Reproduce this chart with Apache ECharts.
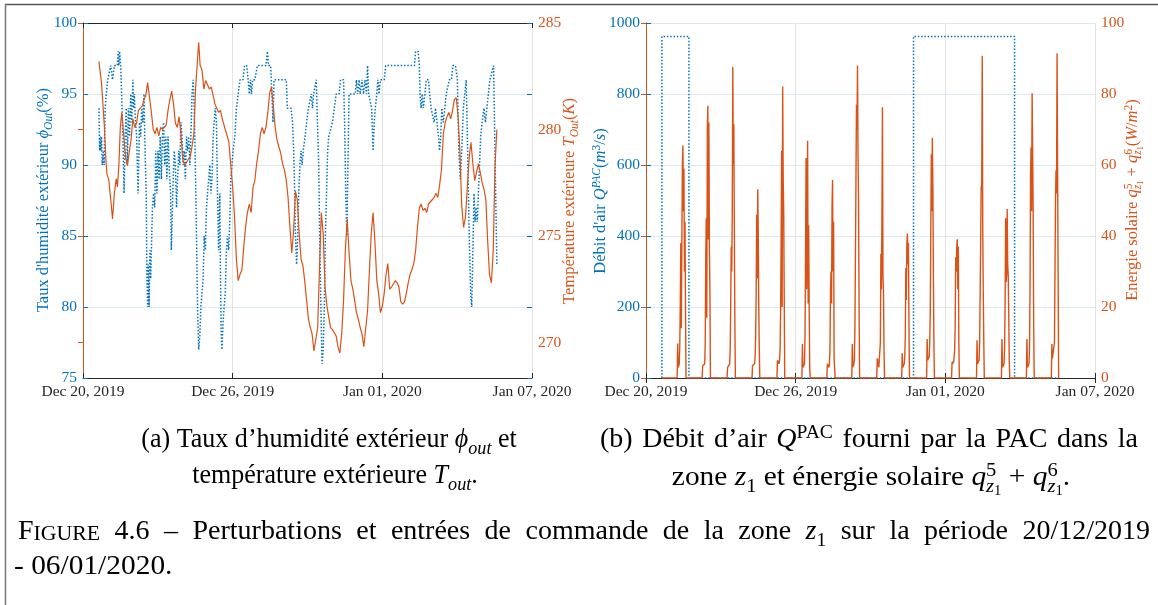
<!DOCTYPE html>
<html><head><meta charset="utf-8">
<script src="https://cdn.jsdelivr.net/npm/echarts@6/dist/echarts.min.js"></script>
<style>html,body{margin:0;padding:0;background:#fff}#c{width:1158px;height:605px}</style>
</head><body><div id="c"></div>
<script>
// ---------------- DATA ----------------
const xTickHours = [0, 144, 288, 432];           // hours since Dec 20, 2019 00:00
const xTickLabels = ['Dec 20, 2019', 'Dec 26, 2019', 'Jan 01, 2020', 'Jan 07, 2020'];
const humidityTicks = [75, 80, 85, 90, 95, 100];
const temperatureTicks = [270, 275, 280, 285];
const airflowTicks = [0, 200, 400, 600, 800, 1000];
const solarTicks = [0, 20, 40, 60, 80, 100];

// outdoor humidity (%), [hour, value]
const humidity = [[15.3,94],[16.0,91],[16.7,92],[17.1,91],[17.8,92],[18.5,90],[19.6,91],[20.3,90],[21.3,94],[22.4,95],[23.8,96],[25.6,96],[26.7,97],[28.4,96],[30.2,97],[33.1,97],[33.8,98],[34.5,97],[35.2,98],[36.3,97],[37.3,97],[38.4,92],[39.5,88],[40.5,92],[41.6,94],[42.7,90],[43.7,94],[44.8,92],[45.9,95],[46.9,93],[48.0,96],[48.7,94],[49.4,95],[50.5,93],[51.6,92],[53.0,88],[54.4,93],[55.5,92],[56.5,94],[57.6,93],[58.7,95],[59.7,91],[60.8,88],[61.5,82],[62.2,80],[62.9,83],[63.6,80],[64.4,84],[65.1,82],[65.8,84],[66.8,87],[67.9,88],[69.0,87],[70.0,91],[71.1,88],[72.2,91],[73.2,89],[74.3,92],[75.4,89],[76.4,92],[77.5,93],[78.6,90],[79.6,92],[80.7,89],[81.8,92],[82.8,90],[84.3,88],[85.0,84],[85.7,86],[86.8,89],[87.8,91],[88.9,90],[90.0,87],[91.0,89],[92.1,91],[93.2,90],[94.2,93],[95.3,92],[96.4,90],[97.4,91],[98.5,89],[99.6,92],[100.6,91],[101.7,92],[102.8,90],[103.8,92],[104.9,95],[106.0,96],[107.0,94],[108.1,90],[109.2,85],[110.2,80],[111.3,77],[112.4,78],[113.4,80],[114.5,81],[115.6,82],[116.6,85],[117.7,84],[118.8,87],[119.8,88],[120.9,89],[122.0,90],[123.0,88],[124.1,89],[125.2,92],[126.2,93],[127.3,94],[128.4,93],[129.4,88],[130.5,84],[131.6,88],[132.3,82],[133.0,78],[133.7,77],[134.8,79],[135.8,80],[136.9,81],[138.0,84],[139.0,85],[140.1,84],[141.2,86],[142.2,89],[143.3,90],[144.4,91],[146.1,92],[147.6,94],[149.3,95],[151.1,96],[153.9,96],[155.4,97],[157.5,97],[158.9,96],[160.0,95],[161.1,96],[162.1,95],[163.2,96],[165.3,96],[167.8,97],[172.4,97],[176.0,97],[177.4,98],[178.5,97],[180.6,97],[181.7,95],[182.8,93],[183.8,96],[186.7,96],[190.2,96],[195.6,96],[196.6,94],[200.2,94],[201.6,93],[202.7,91],[203.7,88],[204.4,85],[205.5,83],[206.6,85],[207.6,88],[208.7,90],[209.8,91],[210.8,90],[211.9,91],[213.7,92],[215.1,93],[216.9,94],[218.7,94],[219.7,95],[220.8,94],[221.9,95],[222.9,95],[224.4,96],[225.8,96],[226.8,90],[227.9,84],[228.9,80],[230.0,76],[231.1,77],[232.2,80],[233.2,85],[234.3,88],[235.4,91],[236.4,92],[238.2,92],[240.0,93],[241.8,94],[243.6,95],[246.4,95],[247.8,96],[250.7,96],[251.7,93],[252.8,88],[253.9,85],[254.9,90],[256.0,95],[259.6,95],[262.0,95],[263.1,96],[264.2,95],[265.6,96],[266.7,95],[268.4,96],[269.9,95],[271.3,96],[272.7,95],[273.8,97],[274.8,95],[276.3,95],[277.7,94],[279.1,91],[280.2,93],[281.2,94],[282.7,95],[283.7,96],[284.8,95],[286.2,96],[288.0,96],[289.8,96],[291.2,97],[296.9,97],[304.0,97],[311.1,97],[318.9,97],[320.0,98],[322.5,98],[323.6,97],[324.3,95],[325.3,94],[326.4,95],[327.5,94],[328.9,95],[330.3,96],[332.4,96],[333.5,95],[334.9,94],[336.4,94],[337.8,93],[339.2,94],[340.6,93],[342.0,92],[343.1,91],[344.2,92],[345.2,94],[346.7,93],[348.1,94],[349.5,95],[350.9,95],[352.4,96],[354.5,96],[355.9,97],[358.4,97],[360.2,96],[361.6,91],[363.0,89],[364.4,91],[365.9,94],[367.3,95],[368.7,96],[369.8,92],[370.8,88],[371.9,84],[373.0,81],[374.0,80],[375.1,84],[376.2,88],[377.2,86],[378.3,87],[379.4,86],[380.4,88],[381.5,90],[382.6,92],[384.0,93],[385.8,94],[387.2,93],[388.6,94],[390.0,95],[391.5,96],[393.2,96],[395.0,97],[396.8,97],[398.2,83]];

// outdoor temperature (K), [hour, value]
const temperature = [[15.3,283.2],[17.8,282.2],[20.6,280.1],[22.0,278.6],[23.1,277.9],[24.9,277.6],[26.7,276.7],[28.4,275.8],[30.2,277.0],[32.0,277.7],[33.1,277.3],[34.5,278.3],[35.9,280.1],[37.3,280.8],[39.1,279.8],[40.9,278.7],[42.7,278.3],[44.4,278.9],[46.2,279.5],[48.0,280.5],[49.8,280.1],[51.6,280.3],[53.3,280.9],[55.1,281.0],[56.9,281.1],[58.7,281.4],[60.4,281.6],[62.2,282.2],[64.0,281.5],[65.8,280.8],[67.6,280.0],[69.3,279.8],[71.1,280.1],[72.9,279.7],[74.7,280.1],[76.4,280.0],[78.2,280.1],[80.0,280.2],[81.8,280.9],[83.6,281.4],[85.3,281.8],[87.1,281.2],[88.9,280.3],[90.7,280.1],[92.4,280.6],[94.2,279.8],[96.0,278.6],[97.8,278.3],[99.6,278.3],[101.3,278.6],[103.1,278.7],[104.9,279.2],[106.7,279.8],[108.4,282.0],[110.2,283.3],[111.3,284.1],[112.7,283.0],[114.5,282.8],[116.3,281.9],[118.0,282.3],[119.8,282.3],[121.6,281.9],[123.4,282.0],[125.2,281.6],[126.9,281.2],[128.7,281.2],[130.5,280.8],[132.3,280.9],[134.0,280.5],[136.9,280.0],[138.7,279.7],[140.4,279.4],[142.2,278.3],[144.0,277.3],[145.8,275.9],[147.6,273.9],[149.3,272.9],[151.1,273.2],[152.9,273.4],[154.7,274.5],[156.4,275.4],[158.2,276.1],[160.0,276.5],[161.8,276.1],[163.6,277.3],[165.3,277.6],[167.1,278.4],[168.9,279.0],[170.7,279.8],[172.4,280.1],[174.2,279.8],[176.0,280.1],[177.8,280.8],[179.6,281.7],[181.3,282.0],[183.1,281.1],[184.9,280.1],[186.7,279.5],[188.4,279.2],[190.2,278.9],[192.0,278.4],[193.8,278.1],[195.6,277.6],[197.3,276.8],[199.1,275.4],[200.9,274.2],[202.7,275.3],[204.4,277.1],[206.2,276.7],[208.0,275.1],[209.8,273.9],[211.6,273.6],[213.3,272.9],[215.1,272.0],[216.9,271.1],[218.7,270.7],[220.4,270.4],[222.2,269.6],[224.0,269.6],[225.8,270.7],[227.6,273.6],[229.3,276.1],[231.1,275.1],[232.9,272.6],[234.7,271.7],[236.4,271.2],[238.2,270.7],[240.0,270.6],[241.8,270.6],[243.6,270.3],[245.3,269.8],[247.1,269.5],[248.9,270.4],[250.7,272.0],[252.4,274.3],[254.2,275.8],[256.0,274.2],[257.8,272.9],[259.6,272.5],[261.3,272.0],[263.1,271.4],[264.9,271.1],[266.7,270.7],[268.4,270.4],[270.2,269.8],[272.0,269.8],[273.8,271.5],[275.6,273.4],[277.3,275.1],[279.1,276.1],[280.9,274.7],[282.7,272.9],[284.4,272.3],[286.2,271.4],[288.0,271.7],[289.8,272.3],[291.6,273.2],[293.3,273.7],[295.1,272.5],[296.9,272.6],[298.7,272.6],[300.4,272.9],[302.2,272.8],[304.0,272.6],[305.8,271.9],[307.6,271.8],[309.3,271.9],[311.1,272.3],[312.9,272.8],[314.7,273.2],[316.4,273.4],[318.2,273.7],[320.0,274.3],[321.8,275.4],[323.6,276.3],[325.3,276.5],[327.1,276.2],[328.9,276.3],[330.7,276.1],[332.4,276.5],[334.2,276.5],[336.0,276.7],[337.8,276.8],[339.6,277.0],[341.3,276.8],[343.1,277.4],[344.9,278.1],[346.7,279.8],[348.4,280.3],[350.2,280.6],[352.0,280.8],[353.8,280.5],[355.6,280.9],[357.3,281.4],[359.1,281.5],[360.9,280.6],[362.7,278.9],[364.4,276.4],[366.2,275.4],[368.0,275.9],[369.8,277.3],[371.6,278.7],[373.3,279.4],[375.1,278.4],[376.9,277.6],[378.7,278.0],[380.4,278.4],[382.2,278.0],[384.0,277.5],[385.8,277.2],[387.6,276.7],[389.3,274.8],[391.1,273.2],[392.9,272.8],[394.7,274.3],[396.4,278.3],[398.2,280.0]];

// heat-pump airflow Q^PAC (m3/s), [hour, value]
const airflow = [[15.3,0],[15.3,962],[41.3,962],[41.3,0],[257.4,0],[257.4,962],[354.6,962],[354.6,0],[397.5,0]];

// solar gains q5+q6 (W/m2): one profile per day, half-hour samples from 06:00
const solarStartHour = 15.3;
const solarDayStart = [30, 54, 78, 102, 126, 150, 174, 198, 222, 246, 270, 294, 318, 342, 366, 390];
const solarStep = 0.5;
const solarDays = [
  [0, 9.7, 3, 3.5, 4, 9, 21, 38, 14, 38, 60, 65.5, 47, 59, 30, 44, 20, 0],
  [0, 3.4, 3, 3.5, 3, 4, 10, 34, 45, 17, 70, 76.7, 39, 72, 37, 24, 0],
  [0, 3, 3.5, 3, 2.5, 4, 8, 20, 37, 30, 46, 87.6, 60, 71.5, 42, 15, 0],
  [0, 3.5, 3, 4, 3.5, 4, 6, 12, 24, 46, 28, 53.2, 41, 20, 8, 0],
  [0, 5, 4.5, 5, 4, 5, 8, 18, 38, 64, 20, 82.1, 56, 47, 22, 0],
  [0, 9.6, 3, 2.5, 3, 4, 12, 34, 62, 25, 43, 66.8, 21, 43, 20, 3, 0],
  [0, 4, 3.5, 4, 3, 4, 8, 24, 30, 21, 48, 55.8, 30, 44, 5.5, 5, 0],
  [0, 9.6, 3, 3.5, 4, 5, 14, 34, 55, 77, 70, 88, 63, 49, 20, 0],
  [0, 5.5, 5, 5.5, 3, 2.5, 3, 10, 35, 25, 45, 76.3, 29, 24, 8, 0],
  [0, 7, 3, 2.5, 3, 4, 6, 12, 31, 22, 38, 40.7, 32, 38, 15, 0],
  [0, 11, 5, 4.5, 5, 6, 10, 18, 40, 63, 47, 67.7, 54, 30, 10, 0],
  [0, 4.6, 4, 3.5, 4.6, 6, 8, 15, 34, 30, 37, 39.1, 25, 37, 10, 0],
  [0, 10.6, 4, 3.5, 4, 5, 10, 23, 38, 54, 53, 90.8, 42, 24, 10, 0],
  [0, 11, 3, 3.5, 3, 4, 8, 20, 45, 27, 29, 47.6, 32, 29, 18, 5, 0],
  [0, 11, 3, 3.5, 3, 4, 8, 25, 57, 65, 47, 80.2, 65, 47, 15, 0],
  [0, 9.6, 5.5, 5, 5.5, 6, 10, 30, 50, 58.5, 52, 91.5, 60, 30, 0]
];

// ---------------- BUILD ----------------
const BLUE = '#0072BD', ORANGE = '#D95319', DARK = '#262626';
const SERIF = 'Liberation Serif';
const solar = [[solarStartHour, 0]];
solarDays.forEach((vals, d) => vals.forEach((v, k) => solar.push([solarDayStart[d] + k * solarStep, v])));

const mctx = document.createElement('canvas').getContext('2d');
function mathText(pieces, o) {
  const F = o.size, ff = o.ff || SERIF;
  const toks = [];
  pieces.forEach(p => {
    const r = p.r || 'n';
    if (r === 'n' && !p.it) {
      p.t.split(/( )/).forEach(s => { if (s) toks.push(Object.assign({}, p, { t: s, sp: s === ' ' })); });
    } else toks.push(p);
  });
  function layout(extra) {
    let maxEnd = 0, prevStart = 0, prevEnd = 0;
    const kids = [];
    toks.forEach(p => {
      const r = p.r || 'n';
      const f = (r === 'sub' || r === 'sup') ? F * 0.7 : r === 'subsub' ? F * 0.5 : r === 'sc' ? F * 0.78 : F;
      const font = (p.it ? 'italic ' : '') + f.toFixed(1) + 'px "' + ff + '"';
      mctx.font = font;
      let w = mctx.measureText(p.t).width + (p.sp ? extra : 0);
      let start = p.back ? prevStart : (r === 'subsub' ? prevEnd : maxEnd);
      let dy = 0.3 * (F - f);
      if (r === 'sub') dy += 0.22 * F;
      if (r === 'sup') dy -= 0.36 * F;
      if (r === 'subsub') dy += 0.34 * F;
      if (!p.sp) kids.push({ start, w, font, t: p.t, dy });
      prevStart = start; prevEnd = start + w; maxEnd = Math.max(maxEnd, start + w);
    });
    return { kids, maxEnd };
  }
  let L = layout(0);
  if (o.justify) {
    const n = toks.filter(t => t.sp).length;
    if (n) L = layout((o.justify - L.maxEnd) / n);
  }
  const off = o.align === 'left' ? 0 : -L.maxEnd / 2;
  return {
    type: 'group', x: o.x, y: o.y, rotation: o.rotation || 0, scaleX: o.scaleX || 1,
    children: L.kids.map(k => ({
      type: 'text', x: k.start + off, y: k.dy, silent: true,
      style: { text: k.t, font: k.font, fill: o.color || '#000', textAlign: 'left', textVerticalAlign: 'middle', align: 'left', verticalAlign: 'middle' }
    }))
  };
}

const tickLabel = v => { const i = xTickHours.indexOf(v); return i >= 0 ? xTickLabels[i] : ''; };
function xAxes(g) {
  return [
    { gridIndex: g, type: 'value', position: 'bottom', min: xTickHours[0], max: xTickHours[3], interval: xTickHours[1] - xTickHours[0],
      axisLine: { show: true, lineStyle: { color: DARK, width: 1 } },
      axisTick: { show: true, inside: true, length: 5, lineStyle: { color: DARK } },
      axisLabel: { formatter: tickLabel, color: DARK, fontFamily: SERIF, fontSize: 15.5, margin: 6 },
      splitLine: { show: true, lineStyle: { color: '#e4e4e4', width: 1 } } },
    { gridIndex: g, type: 'value', position: 'top', min: xTickHours[0], max: xTickHours[3], interval: xTickHours[1] - xTickHours[0],
      axisLine: { show: true, lineStyle: { color: DARK, width: 1 } },
      axisTick: { show: true, inside: true, length: 5, lineStyle: { color: DARK } },
      axisLabel: { show: false }, splitLine: { show: false } }
  ];
}
function yAxis(g, pos, min, max, ticks, color, opts) {
  opts = opts || {};
  return { gridIndex: g, type: 'value', position: pos, min, max,
    axisLine: { show: opts.line !== false, lineStyle: { color, width: 1 } },
    axisTick: { show: true, inside: true, length: 5, customValues: ticks, lineStyle: { color } },
    axisLabel: { show: opts.label !== false, customValues: ticks, formatter: v => String(v), color, fontFamily: SERIF, fontSize: 15.5, margin: 6 },
    splitLine: { show: !!opts.split, lineStyle: { color: '#dce9f4', width: 1 } } };
}

const xs = xAxes(0).concat(xAxes(1));
const ys = [
  yAxis(0, 'left', 75, 100, humidityTicks, BLUE, { split: true }),
  yAxis(0, 'right', 268.33, 285, temperatureTicks, ORANGE),
  yAxis(0, 'right', 75, 100, humidityTicks, BLUE, { line: false, label: false }),
  yAxis(1, 'left', 0, 1000, airflowTicks, BLUE, { split: true }),
  yAxis(1, 'right', 0, 100, solarTicks, ORANGE)
];

const dotted = { color: BLUE, width: 1.5, type: [1.5, 1.8] };
const series = [
  { type: 'line', xAxisIndex: 0, yAxisIndex: 0, data: humidity, showSymbol: false, lineStyle: dotted, z: 3 },
  { type: 'line', xAxisIndex: 0, yAxisIndex: 1, data: temperature, showSymbol: false, lineStyle: { color: ORANGE, width: 1.2 }, z: 4 },
  { type: 'line', xAxisIndex: 2, yAxisIndex: 3, data: airflow, showSymbol: false, lineStyle: dotted, z: 3 },
  { type: 'line', xAxisIndex: 2, yAxisIndex: 4, data: solar, showSymbol: false, lineStyle: { color: ORANGE, width: 1.4 }, z: 4 }
];

const R = Math.PI / 2;
const AX = 16.5, CAP = 28;
const graphics = [
  { type: 'line', shape: { x1: 5, y1: 4.5, x2: 1158, y2: 4.5 }, style: { stroke: '#555', lineWidth: 1.5 }, silent: true },
  { type: 'line', shape: { x1: 5.5, y1: 4, x2: 5.5, y2: 605 }, style: { stroke: '#777', lineWidth: 1.5 }, silent: true },
  // axis titles
  mathText([{ t: "Taux d'humidité extérieur " }, { t: 'ϕ', it: 1 }, { t: 'Out', it: 1, r: 'sub' }, { t: '(%)' }],
    { x: 44, y: 200, rotation: R, size: AX, color: BLUE }),
  mathText([{ t: 'Température extérieure ' }, { t: 'T', it: 1 }, { t: 'Out', it: 1, r: 'sub' }, { t: '(' }, { t: 'K', it: 1 }, { t: ')' }],
    { x: 570, y: 201, rotation: R, size: AX, color: ORANGE }),
  mathText([{ t: "Débit d'air " }, { t: 'Q', it: 1 }, { t: 'PAC', it: 1, r: 'sup' }, { t: '(' }, { t: 'm', it: 1 }, { t: '3', r: 'sup' }, { t: '/' }, { t: 's', it: 1 }, { t: ')' }],
    { x: 601, y: 201, rotation: R, size: AX, color: BLUE }),
  mathText([{ t: 'Energie solaire ' }, { t: 'q', it: 1 }, { t: '5', r: 'sup' }, { t: 'z', it: 1, r: 'sub', back: 1 }, { t: '1', r: 'subsub' }, { t: ' + ' },
            { t: 'q', it: 1 }, { t: '6', r: 'sup' }, { t: 'z', it: 1, r: 'sub', back: 1 }, { t: '1', r: 'subsub' },
            { t: '(' }, { t: 'W', it: 1 }, { t: '/' }, { t: 'm', it: 1 }, { t: '2', r: 'sup' }, { t: ')' }],
    { x: 1133, y: 200, rotation: R, size: AX, color: ORANGE }),
  // sub-captions
  mathText([{ t: "(a) Taux d’humidité extérieur " }, { t: 'ϕ', it: 1 }, { t: 'out', it: 1, r: 'sub' }, { t: ' et' }],
    { x: 329, y: 440, size: CAP, scaleX: 0.93, color: '#000' }),
  mathText([{ t: 'température extérieure ' }, { t: 'T', it: 1 }, { t: 'out', it: 1, r: 'sub' }, { t: '.' }],
    { x: 335, y: 476, size: CAP, scaleX: 0.93, color: '#000' }),
  mathText([{ t: "(b) Débit d’air " }, { t: 'Q', it: 1 }, { t: 'PAC', r: 'sup' }, { t: ' fourni par la PAC dans la' }],
    { x: 869, y: 440, size: CAP, justify: 538, color: '#000' }),
  mathText([{ t: 'zone ' }, { t: 'z', it: 1 }, { t: '1', r: 'sub' }, { t: ' et énergie solaire ' },
            { t: 'q', it: 1 }, { t: '5', r: 'sup' }, { t: 'z', it: 1, r: 'sub', back: 1 }, { t: '1', r: 'subsub' }, { t: ' + ' },
            { t: 'q', it: 1 }, { t: '6', r: 'sup' }, { t: 'z', it: 1, r: 'sub', back: 1 }, { t: '1', r: 'subsub' }, { t: '.' }],
    { x: 871, y: 478, size: CAP, scaleX: 1.05, color: '#000' }),
  // figure caption
  mathText([{ t: 'F' }, { t: 'IGURE', r: 'sc' }, { t: ' 4.6 – Perturbations et entrées de commande de la zone ' }, { t: 'z', it: 1 }, { t: '1', r: 'sub' },
            { t: ' sur la période 20/12/2019' }],
    { x: 18, y: 532, size: CAP, align: 'left', justify: 1132, color: '#000' }),
  mathText([{ t: '- 06/01/2020.' }], { x: 14, y: 567, size: CAP, align: 'left', scaleX: 1.05, color: '#000' })
];

const chart = echarts.init(document.getElementById('c'), null, { renderer: 'canvas' });
chart.setOption({
  animation: false,
  backgroundColor: '#fff',
  grid: [
    { left: 83, top: 23, width: 449, height: 355, containLabel: false, outerBoundsMode: 'none' },
    { left: 646, top: 23, width: 449, height: 355, containLabel: false, outerBoundsMode: 'none' }
  ],
  xAxis: xs,
  yAxis: ys,
  series,
  graphic: graphics
});
</script></body></html>
